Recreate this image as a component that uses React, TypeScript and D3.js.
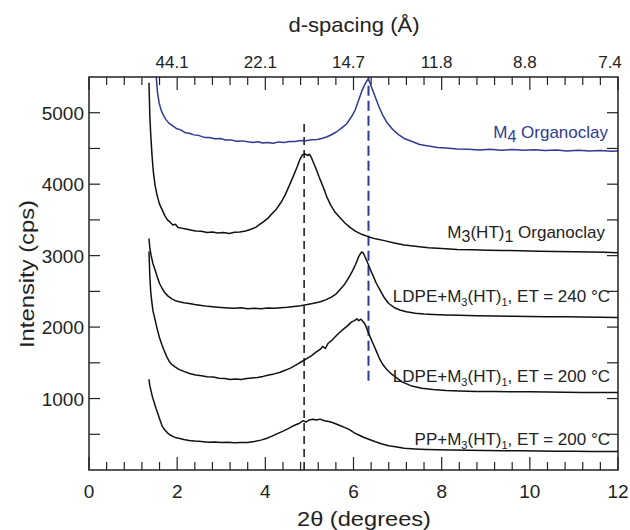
import React, { useEffect, useRef } from 'react'
import * as d3 from 'd3'

// XRD patterns, [2theta (deg), intensity (cps)]
const m4Organoclay: [number, number][] = [
  [1.52, 5560], [1.55, 5300], [1.59, 5140], [1.64, 5030], [1.70, 4950], [1.75, 4900], [1.82, 4850], [1.90, 4815],
  [1.98, 4780], [2.08, 4760], [2.18, 4720], [2.27, 4712], [2.38, 4690], [2.50, 4680], [2.62, 4655], [2.73, 4652],
  [2.85, 4636], [2.98, 4640], [3.10, 4618], [3.22, 4620], [3.35, 4600], [3.48, 4606], [3.60, 4594], [3.72, 4584],
  [3.85, 4594], [3.93, 4576], [4.05, 4584], [4.18, 4572], [4.30, 4592], [4.42, 4584], [4.55, 4596], [4.68, 4598],
  [4.80, 4610], [4.92, 4608], [5.05, 4622], [5.18, 4626], [5.30, 4644], [5.40, 4664], [5.50, 4692], [5.61, 4730],
  [5.72, 4782], [5.84, 4840], [5.95, 4940], [6.04, 5040], [6.12, 5180], [6.20, 5320], [6.27, 5410], [6.32, 5462],
  [6.36, 5440], [6.42, 5340], [6.50, 5210], [6.58, 5080], [6.66, 4970], [6.76, 4862], [6.89, 4766], [7.02, 4694],
  [7.15, 4640], [7.30, 4604], [7.50, 4556], [7.70, 4534], [7.90, 4512], [8.10, 4508], [8.35, 4494], [8.60, 4490],
  [8.85, 4480], [9.10, 4488], [9.35, 4476], [9.60, 4484], [9.85, 4474], [10.10, 4482], [10.35, 4470], [10.60, 4478],
  [10.85, 4466], [11.10, 4474], [11.35, 4464], [11.60, 4470], [11.85, 4460], [12.0, 4466],
]

const m3ht1Organoclay: [number, number][] = [
  [1.36, 5420], [1.37, 5200], [1.38, 4950], [1.40, 4700], [1.43, 4400], [1.46, 4170], [1.50, 3980], [1.55, 3830],
  [1.60, 3720], [1.66, 3640], [1.72, 3560], [1.78, 3500], [1.84, 3470], [1.90, 3430], [1.96, 3440], [2.02, 3395],
  [2.10, 3385], [2.20, 3372], [2.30, 3360], [2.42, 3346], [2.55, 3340], [2.68, 3324], [2.80, 3332], [2.92, 3316],
  [3.05, 3324], [3.18, 3310], [3.30, 3326], [3.42, 3330], [3.55, 3346], [3.66, 3365], [3.78, 3395], [3.88, 3440],
  [3.97, 3480], [4.06, 3525], [4.15, 3585], [4.25, 3650], [4.35, 3740], [4.45, 3850], [4.55, 3990], [4.64, 4120],
  [4.72, 4240], [4.78, 4340], [4.84, 4410], [4.90, 4425], [4.96, 4400], [5.00, 4420], [5.04, 4380], [5.10, 4290],
  [5.16, 4200], [5.22, 4100], [5.30, 3980], [5.39, 3830], [5.48, 3710], [5.58, 3610], [5.68, 3540], [5.80, 3460],
  [5.92, 3395], [6.05, 3340], [6.20, 3295], [6.35, 3262], [6.50, 3235], [6.70, 3210], [6.90, 3180], [7.15, 3150],
  [7.40, 3130], [7.70, 3110], [8.00, 3100], [8.35, 3085], [8.70, 3082], [9.05, 3075], [9.40, 3072], [9.80, 3068],
  [10.20, 3062], [10.60, 3058], [11.00, 3055], [11.40, 3050], [11.70, 3046], [12.0, 3042],
]

const ldpe240: [number, number][] = [
  [1.36, 3240], [1.38, 3110], [1.41, 3000], [1.45, 2890], [1.50, 2800], [1.55, 2700], [1.60, 2610], [1.66, 2540],
  [1.72, 2480], [1.80, 2430], [1.88, 2395], [1.96, 2370], [2.05, 2355], [2.15, 2340], [2.27, 2330], [2.40, 2315],
  [2.55, 2302], [2.70, 2290], [2.85, 2282], [3.00, 2275], [3.15, 2268], [3.30, 2262], [3.45, 2270], [3.60, 2258],
  [3.75, 2262], [3.90, 2256], [4.05, 2268], [4.20, 2262], [4.35, 2272], [4.50, 2278], [4.65, 2288], [4.80, 2298],
  [4.95, 2315], [5.10, 2335], [5.25, 2355], [5.38, 2385], [5.50, 2420], [5.60, 2460], [5.70, 2530], [5.80, 2600],
  [5.90, 2700], [5.98, 2790], [6.05, 2880], [6.12, 2990], [6.18, 3050], [6.22, 3040], [6.27, 2970], [6.32, 2900],
  [6.38, 2810], [6.45, 2710], [6.52, 2610], [6.60, 2520], [6.70, 2410], [6.80, 2330], [6.92, 2275], [7.05, 2240],
  [7.20, 2215], [7.40, 2195], [7.60, 2182], [7.80, 2175], [8.10, 2168], [8.40, 2165], [8.80, 2160], [9.20, 2155],
  [9.60, 2150], [10.00, 2148], [10.40, 2146], [10.80, 2144], [11.20, 2140], [11.60, 2136], [12.0, 2133],
]

const ldpe200: [number, number][] = [
  [1.36, 3060], [1.37, 2900], [1.38, 2700], [1.40, 2500], [1.42, 2380], [1.45, 2230], [1.50, 2100], [1.55, 1965],
  [1.60, 1850], [1.65, 1760], [1.70, 1680], [1.76, 1590], [1.82, 1520], [1.89, 1470], [1.96, 1440], [2.05, 1405],
  [2.15, 1380], [2.28, 1350], [2.42, 1330], [2.55, 1320], [2.68, 1305], [2.82, 1300], [2.95, 1285], [3.08, 1280],
  [3.20, 1266], [3.32, 1275], [3.45, 1268], [3.58, 1280], [3.70, 1288], [3.82, 1296], [3.95, 1310], [4.08, 1330],
  [4.20, 1345], [4.32, 1365], [4.45, 1395], [4.58, 1430], [4.70, 1470], [4.82, 1515], [4.94, 1560], [5.05, 1600],
  [5.15, 1650], [5.25, 1690], [5.30, 1730], [5.36, 1700], [5.42, 1770], [5.50, 1810], [5.58, 1860], [5.66, 1910],
  [5.75, 1960], [5.85, 2010], [5.95, 2070], [6.02, 2090], [6.08, 2115], [6.12, 2090], [6.17, 2110], [6.22, 2075],
  [6.27, 2030], [6.32, 1950], [6.38, 1860], [6.45, 1760], [6.52, 1660], [6.59, 1560], [6.66, 1480], [6.75, 1410],
  [6.85, 1350], [6.98, 1290], [7.11, 1230], [7.30, 1180], [7.55, 1145], [7.80, 1126], [8.10, 1112], [8.40, 1105],
  [8.80, 1100], [9.20, 1098], [9.60, 1096], [10.00, 1094], [10.40, 1090], [10.80, 1088], [11.20, 1086], [11.60, 1085],
  [12.0, 1084],
]

const pp200: [number, number][] = [
  [1.36, 1270], [1.38, 1180], [1.41, 1100], [1.44, 1020], [1.48, 945], [1.52, 860], [1.56, 790], [1.61, 700],
  [1.66, 615], [1.72, 560], [1.78, 520], [1.84, 490], [1.90, 470], [1.98, 450], [2.06, 440], [2.15, 428],
  [2.27, 414], [2.40, 405], [2.55, 398], [2.70, 390], [2.85, 392], [3.00, 385], [3.15, 388], [3.30, 380],
  [3.45, 386], [3.60, 384], [3.75, 398], [3.90, 418], [4.02, 440], [4.14, 470], [4.26, 505], [4.39, 540],
  [4.52, 580], [4.64, 620], [4.76, 650], [4.86, 690], [4.92, 670], [5.00, 700], [5.08, 710], [5.16, 700],
  [5.24, 712], [5.34, 690], [5.44, 680], [5.52, 665], [5.62, 640], [5.72, 615], [5.82, 590], [5.91, 565],
  [6.02, 520], [6.12, 490], [6.24, 455], [6.36, 427], [6.50, 395], [6.65, 365], [6.80, 340], [6.95, 325],
  [7.15, 305], [7.40, 295], [7.65, 288], [7.90, 284], [8.20, 280], [8.60, 275], [9.00, 272], [9.40, 270],
  [9.80, 268], [10.20, 266], [10.60, 264], [11.00, 262], [11.40, 260], [11.70, 259], [12.0, 258],
]

// vertical reference lines: [2theta, from cps, to cps]
const refLines: [number, number, number][] = [
  [4.88, 0, 4860],
  [6.34, 1250, 5500],
]

const bottomTicks = [0, 2, 4, 6, 8, 10, 12]
const topTickPos = [2, 4, 6, 8, 10, 12]
const dSpacingLabels = ['44.1', '22.1', '14.7', '11.8', '8.8', '7.4']
const yTicks = [1000, 2000, 3000, 4000, 5000]

const BLUE = '#2f3a96'
const FONT = '"Liberation Sans", Arial, Helvetica, sans-serif'

export default function App() {
  const ref = useRef<SVGSVGElement>(null)

  useEffect(() => {
    const svg = d3.select(ref.current)
    svg.selectAll('*').remove()

    const W = 630, H = 530
    const L = 89, R = 618, T = 77, B = 470
    const x = d3.scaleLinear().domain([0, 12]).range([L, R])
    const y = d3.scaleLinear().domain([0, 5500]).range([B, T])

    svg.append('rect').attr('width', W).attr('height', H).attr('fill', '#fff')

    svg.append('defs').append('clipPath').attr('id', 'plot')
      .append('rect').attr('x', L).attr('y', T).attr('width', R - L).attr('height', B - T)

    // minor ticks every 0.4 deg and every 500 cps
    const xMinor = d3.range(0, 12.01, 0.4).map(v => +v.toFixed(1))
    const yMinor = d3.range(500, 5500, 500)
    const isMajorX = (v: number) => Math.abs(v / 2 - Math.round(v / 2)) < 1e-6
    const g = svg.append('g').attr('stroke', '#222').attr('stroke-width', 1.2)
    xMinor.forEach(v => {
      const len = isMajorX(v) ? 13 : 8
      g.append('line').attr('x1', x(v)).attr('x2', x(v)).attr('y1', B).attr('y2', B - len)
      g.append('line').attr('x1', x(v)).attr('x2', x(v)).attr('y1', T).attr('y2', T + len)
    })
    yMinor.forEach(v => {
      g.append('line').attr('x1', L).attr('x2', L + 11).attr('y1', y(v)).attr('y2', y(v))
      g.append('line').attr('x1', R).attr('x2', R - 11).attr('y1', y(v)).attr('y2', y(v))
    })

    // dashed reference lines
    refLines.forEach(([v, a, b], i) => {
      svg.append('line')
        .attr('x1', x(v)).attr('x2', x(v)).attr('y1', y(a)).attr('y2', y(b))
        .attr('stroke', i === 0 ? '#222' : BLUE).attr('stroke-width', i === 0 ? 1.6 : 2)
        .attr('stroke-dasharray', i === 0 ? '8,5' : '10,5')
    })

    const line = d3.line<[number, number]>().x(d => x(d[0])).y(d => y(d[1]))
    const series: [[number, number][], string][] = [
      [m4Organoclay, BLUE], [m3ht1Organoclay, '#111'], [ldpe240, '#111'], [ldpe200, '#111'], [pp200, '#111'],
    ]
    const cg = svg.append('g').attr('clip-path', 'url(#plot)')
    series.forEach(([data, color]) => {
      cg.append('path').attr('d', line(data)).attr('fill', 'none')
        .attr('stroke', color).attr('stroke-width', 1.5).attr('stroke-linejoin', 'round')
    })

    // frame
    svg.append('rect').attr('x', L).attr('y', T).attr('width', R - L).attr('height', B - T)
      .attr('fill', 'none').attr('stroke', '#222').attr('stroke-width', 1.5)

    const txt = svg.append('g').attr('font-family', FONT).attr('fill', '#222')

    bottomTicks.forEach(v => {
      txt.append('text').attr('x', x(v)).attr('y', 498).attr('text-anchor', 'middle')
        .attr('font-size', 19).text(v)
    })
    topTickPos.forEach((v, i) => {
      txt.append('text').attr('x', Math.min(x(v) - 5, 610)).attr('y', 68).attr('text-anchor', 'middle')
        .attr('font-size', 17).text(dSpacingLabels[i])
    })
    yTicks.forEach(v => {
      txt.append('text').attr('x', 84).attr('y', y(v) + 7).attr('text-anchor', 'end')
        .attr('font-size', 19).text(v)
    })

    txt.append('text').attr('x', 354).attr('y', 32).attr('text-anchor', 'middle')
      .attr('font-size', 21).attr('textLength', 131).attr('lengthAdjust', 'spacingAndGlyphs').text('d-spacing (Å)')
    txt.append('text').attr('x', 364).attr('y', 526).attr('text-anchor', 'middle')
      .attr('font-size', 21).attr('textLength', 134).attr('lengthAdjust', 'spacingAndGlyphs').text('2θ (degrees)')
    txt.append('text').attr('transform', 'translate(34,274) rotate(-90)').attr('text-anchor', 'middle')
      .attr('font-size', 21).attr('textLength', 148).attr('lengthAdjust', 'spacingAndGlyphs').text('Intensity (cps)')

    // curve labels built from plain and subscript pieces
    const label = (xr: number, yb: number, parts: [string, boolean][], color: string, subSize: number, subDy: number) => {
      const t = txt.append('text').attr('x', xr).attr('y', yb).attr('text-anchor', 'end')
        .attr('font-size', 17).attr('fill', color)
      let shift = 0
      parts.forEach(([s, sub]) => {
        const ts = t.append('tspan').text(s)
        const dy = sub ? subDy - shift : -shift
        shift = sub ? subDy : 0
        if (sub) ts.attr('font-size', subSize)
        ts.attr('dy', dy)
      })
    }
    label(608, 138, [['M', false], ['4', true], [' Organoclay', false]], BLUE, 16, 4)
    label(605, 238, [['M', false], ['3', true], ['(HT)', false], ['1', true], [' Organoclay', false]], '#222', 16, 4)
    label(610, 302, [['LDPE+M', false], ['3', true], ['(HT)', false], ['1', true], [', ET = 240 °C', false]], '#222', 11, 4)
    label(610, 382, [['LDPE+M', false], ['3', true], ['(HT)', false], ['1', true], [', ET = 200 °C', false]], '#222', 11, 4)
    label(610, 445, [['PP+M', false], ['3', true], ['(HT)', false], ['1', true], [', ET = 200 °C', false]], '#222', 11, 4)
  }, [])

  return (
    <div style={{ position: 'absolute', left: 0, top: 0 }}>
      <svg ref={ref} width={630} height={530} style={{ display: 'block' }} />
    </div>
  )
}
